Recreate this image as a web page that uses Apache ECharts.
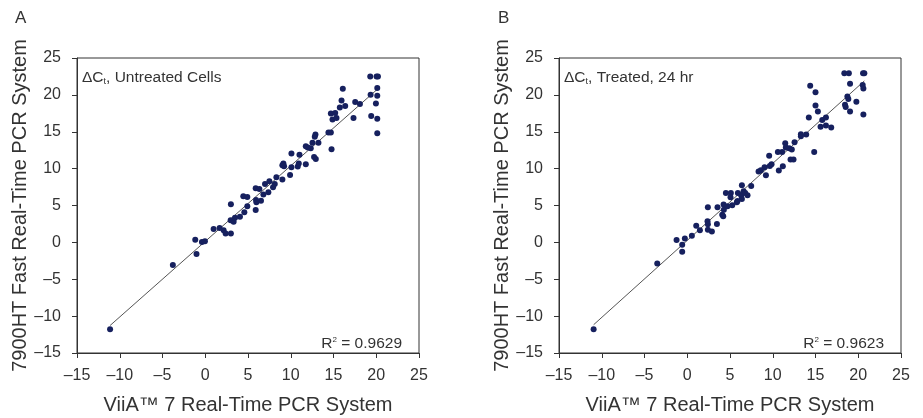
<!DOCTYPE html>
<html>
<head>
<meta charset="utf-8">
<script src="https://cdn.jsdelivr.net/npm/echarts@6/dist/echarts.min.js"></script>
<style>html,body{margin:0;padding:0;background:#fff}#c{width:923px;height:418px}</style>
</head>
<body>
<div id="c"></div>
<script>
// Panel A: Untreated cells (x = ViiA 7, y = 7900HT Fast)
const untreatedX = [-11.13,-3.79,-1.17,-1.02,-0.39,-0.04,0.98,1.68,2.15,2.38,3.0,3.0,2.97,3.32,3.48,4.06,4.45,4.92,4.57,4.92,5.9,6.33,5.94,5.98,5.9,6.52,6.8,6.99,7.38,7.5,7.93,8.13,8.32,9.02,9.14,9.22,9.02,9.92,10.08,10.08,10.82,10.94,11.02,11.76,11.76,11.99,12.34,12.54,12.73,12.93,12.81,12.89,13.24,14.41,14.69,14.77,14.69,14.88,15.2,15.35,15.74,15.94,16.09,16.37,17.34,17.54,18.09,19.3,19.34,19.41,20.04,20.2,20.12,20.12,19.96,20.12,20.12];
const untreatedY = [-11.78,-3.08,0.36,-1.59,0.05,0.14,1.81,1.95,1.63,1.22,1.22,5.16,2.99,2.81,3.35,3.49,6.25,6.16,4.08,4.89,7.34,7.25,5.75,5.43,4.39,5.66,6.48,7.93,6.79,8.29,7.47,7.93,8.83,8.51,10.69,10.33,10.46,9.15,12.05,10.19,10.28,10.69,11.87,10.6,13.04,12.86,12.77,13.5,11.59,11.32,14.31,14.63,13.5,14.9,14.9,12.64,17.48,16.67,17.53,16.85,18.3,19.25,20.83,18.48,16.85,19.02,18.75,22.5,20.02,17.12,22.5,22.5,20.92,19.88,18.84,16.76,14.81];
// Panel B: Treated, 24 hr
const treatedX = [-10.95,-3.51,-1.25,-0.59,-0.59,-0.28,0.54,1.05,1.48,2.41,2.37,2.41,2.41,2.88,3.47,3.54,4.09,4.21,4.25,4.28,4.52,4.71,5.1,5.06,5.26,5.8,5.88,5.92,6.39,6.31,6.39,6.59,6.78,7.05,7.48,8.34,8.61,9.04,9.2,9.58,9.66,9.86,10.6,10.71,11.1,11.18,11.46,11.53,11.92,12.08,12.43,12.23,12.55,13.29,13.29,13.91,14.22,14.38,14.85,15.0,15.0,15.28,15.59,15.79,16.22,16.22,16.84,18.37,18.9,18.45,18.53,18.73,18.84,19.04,19.04,19.78,20.56,20.71,20.52,20.6,20.6];
const treatedY = [-11.78,-2.85,0.32,-0.32,-1.27,0.54,0.91,2.26,1.63,4.76,2.85,2.45,1.72,1.49,2.49,4.76,3.76,3.53,5.12,4.44,6.7,4.89,6.7,6.11,5.03,5.43,5.62,6.7,7.74,6.34,5.89,6.93,6.7,6.39,7.65,9.6,9.78,10.19,9.1,11.73,10.37,10.6,12.27,9.74,12.27,10.33,13.45,12.86,12.77,11.23,11.23,12.59,13.59,14.4,14.67,14.63,16.94,21.24,12.27,20.34,18.57,17.75,15.67,16.58,16.94,15.85,15.58,22.92,22.92,18.66,18.34,19.79,19.43,21.51,17.75,19.07,22.92,22.92,21.33,20.88,17.35];
const axisTicks = [-15,-10,-5,0,5,10,15,20,25];
const panelLabels = ['A','B'];
const panelNotes = ['Untreated Cells','Treated, 24 hr'];
const rSquared = ['0.9629','0.9623'];
const xTitle = 'ViiA\u2122 7 Real-Time PCR System';
const yTitle = '7900HT Fast Real-Time PCR System';

function fitLine(xs, ys){
  const n = xs.length;
  let sx=0, sy=0, sxx=0, sxy=0;
  for(let i=0;i<n;i++){sx+=xs[i];sy+=ys[i];sxx+=xs[i]*xs[i];sxy+=xs[i]*ys[i];}
  const b = (n*sxy - sx*sy)/(n*sxx - sx*sx);
  const a = (sy - b*sx)/n;
  const x0 = Math.min(...xs), x1 = Math.max(...xs);
  return [[x0, a+b*x0],[x1, a+b*x1]];
}
function pairs(xs, ys){ return xs.map((x,i)=>[x, ys[i]]); }

const FONT = 'Liberation Sans, Arial, Helvetica, sans-serif';
const TXT = '#333';
const DOT = '#16205e';
const grids = [
  {left:77, top:58, width:342, height:295},
  {left:559, top:58, width:342, height:295}
];
const datasets = [[untreatedX, untreatedY],[treatedX, treatedY]];

const option = {
  animation:false,
  backgroundColor:'#fff',
  textStyle:{fontFamily:FONT},
  grid: grids.map(g=>Object.assign({show:true, borderColor:'#333', borderWidth:1, backgroundColor:'transparent', containLabel:false, outerBoundsMode:'none'}, g)),
  xAxis: grids.map((g,i)=>({
    gridIndex:i, type:'value', min:axisTicks[0], max:axisTicks[axisTicks.length-1], interval:5,
    name:xTitle, nameLocation:'middle', nameGap:42,
    nameTextStyle:{fontSize:20, color:TXT, fontFamily:FONT},
    axisLine:{show:true, onZero:false, lineStyle:{color:'#333', width:1}},
    axisTick:{show:true, inside:false, length:5, lineStyle:{color:'#333'}},
    axisLabel:{fontSize:16, color:TXT, margin:15, fontFamily:FONT, formatter:v=>String(v).replace('-','\u2013')},
    splitLine:{show:false}
  })),
  yAxis: grids.map((g,i)=>({
    gridIndex:i, type:'value', min:axisTicks[0], max:axisTicks[axisTicks.length-1], interval:5,
    name:yTitle, nameLocation:'middle', nameGap:45, nameRotate:90,
    nameTextStyle:{fontSize:20, color:TXT, fontFamily:FONT},
    axisLine:{show:true, onZero:false, lineStyle:{color:'#333', width:1}},
    axisTick:{show:true, inside:false, length:5, lineStyle:{color:'#333'}},
    axisLabel:{fontSize:16, color:TXT, margin:16, padding:[4,0,0,0], fontFamily:FONT, formatter:v=>String(v).replace('-','\u2013')},
    splitLine:{show:false}
  })),
  title: [].concat(
    panelLabels.map((t,i)=>({text:t, left: i===0 ? 10 : 493, top:5, textStyle:{fontSize:17, fontWeight:'normal', color:TXT, fontFamily:FONT}})),
    panelNotes.map((t,i)=>({
      text:'\u0394C{sub|t}, '+t, left: grids[i].left, top:65,
      textStyle:{fontSize:15.5, fontWeight:'normal', color:TXT, fontFamily:FONT,
        rich:{sub:{fontSize:9, verticalAlign:'bottom', padding:[6,0,0,0], color:TXT, fontFamily:FONT}}}
    })),
    rSquared.map((r,i)=>({
      text:'R{sup|2} = '+r, right: 923-(grids[i].left+grids[i].width)+12, top:331,
      textStyle:{fontSize:15.5, fontWeight:'normal', color:TXT, fontFamily:FONT,
        rich:{sup:{fontSize:8, verticalAlign:'top', padding:[0,0,7,0], color:TXT, fontFamily:FONT}}}
    }))
  ),
  series: [].concat(
    datasets.map((d,i)=>({
      type:'line', xAxisIndex:i, yAxisIndex:i, data:fitLine(d[0], d[1]),
      symbol:'none', lineStyle:{color:'#555', width:1}, z:1, silent:true
    })),
    datasets.map((d,i)=>({
      type:'scatter', xAxisIndex:i, yAxisIndex:i, data:pairs(d[0], d[1]),
      symbolSize:6, itemStyle:{color:DOT, opacity:1}, z:2
    }))
  )
};
const chart = echarts.init(document.getElementById('c'), null, {renderer:'canvas'});
chart.setOption(option);
</script>
</body>
</html>
